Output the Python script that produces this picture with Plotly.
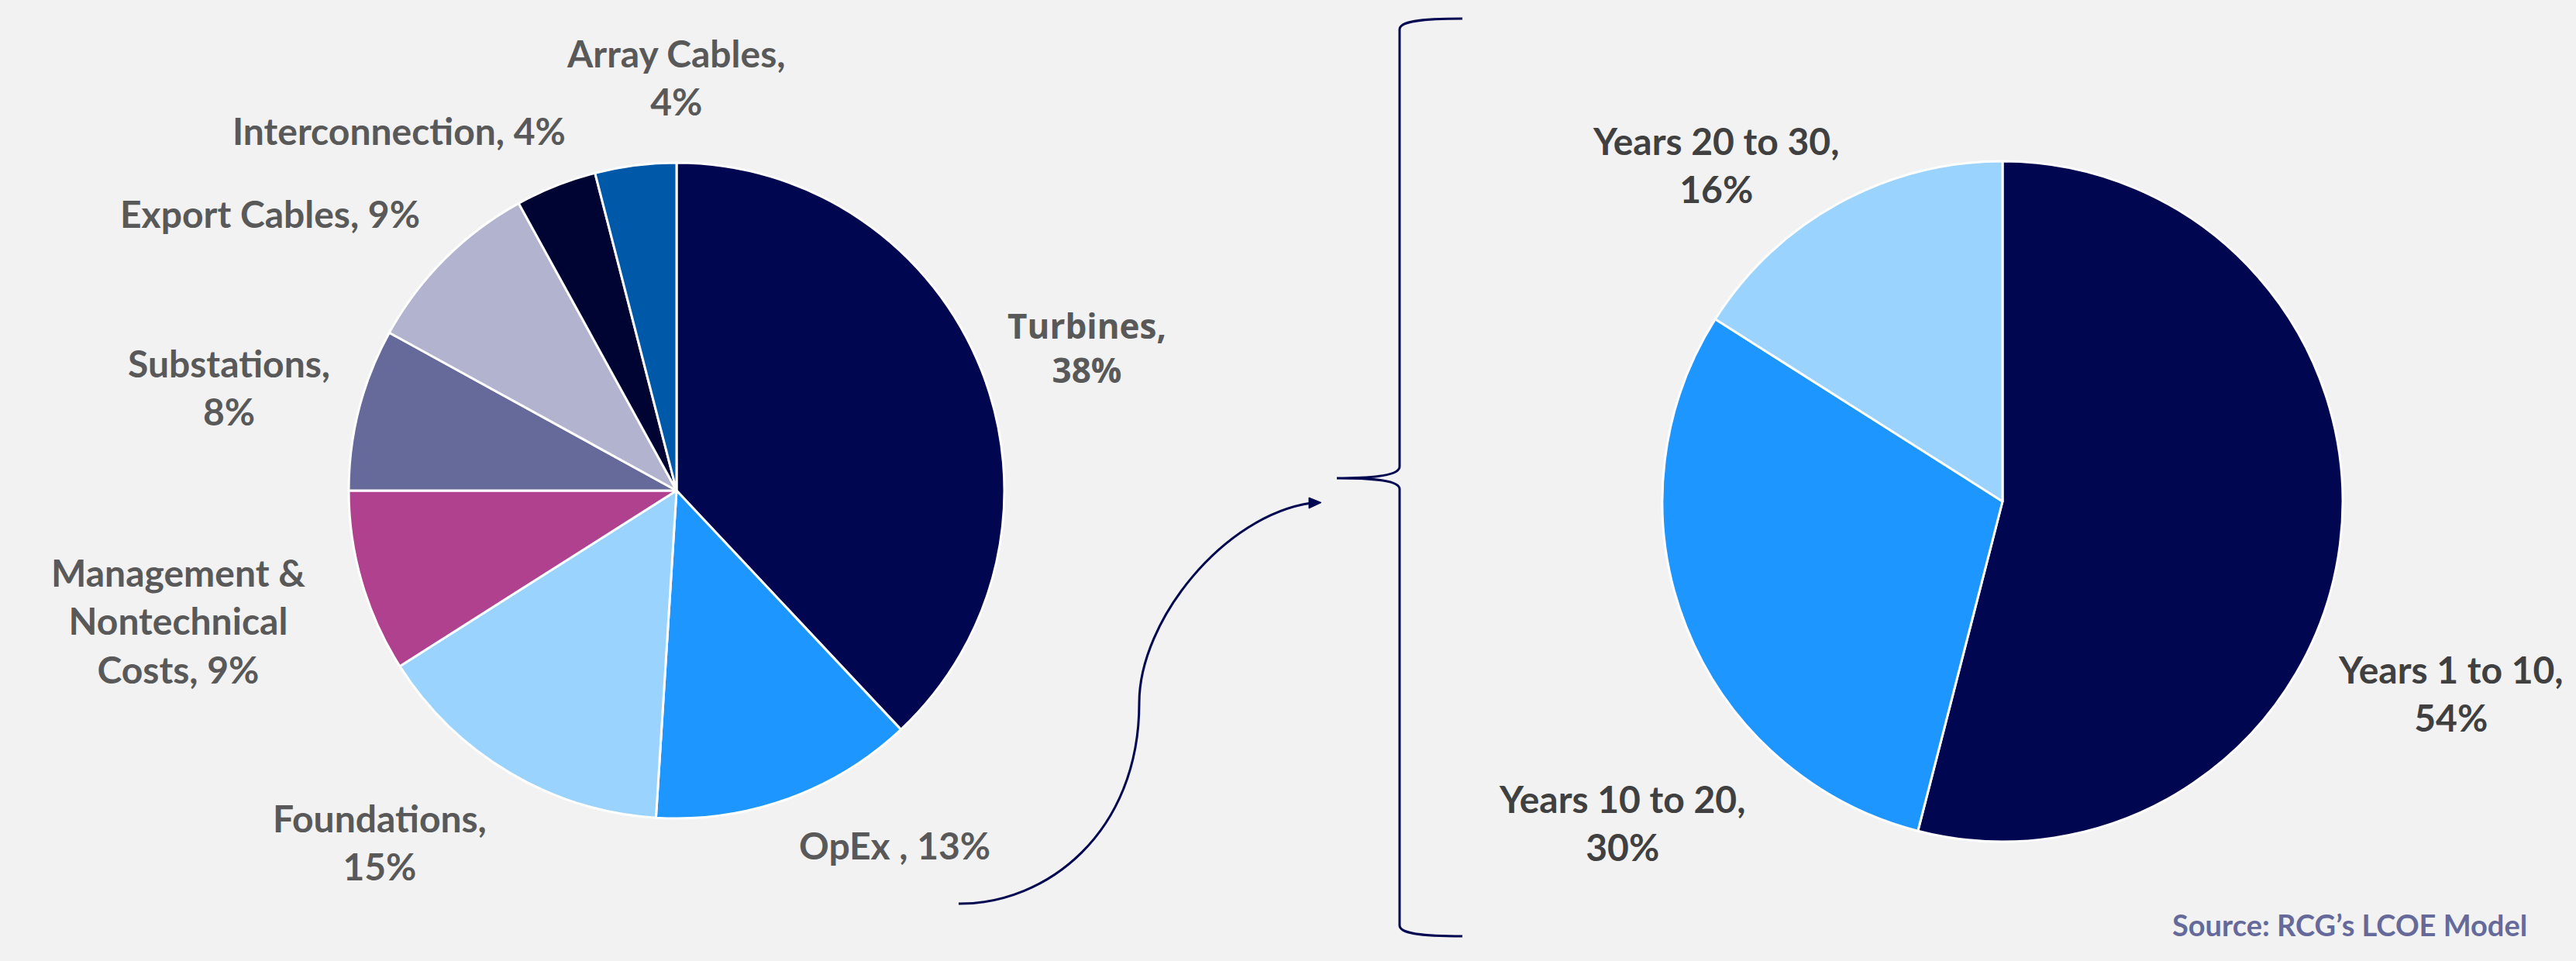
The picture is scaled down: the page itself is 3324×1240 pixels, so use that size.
import plotly.graph_objects as go

W, H = 3324, 1240

# ---- data ----
left_categories = ["Turbines", "OpEx", "Foundations", "Management & Nontechnical Costs",
                   "Substations", "Export Cables", "Interconnection", "Array Cables"]
left_values = [38, 13, 15, 9, 8, 9, 4, 4]
left_label_prefix = ["Turbines,<br>", "OpEx , ", "Foundations,<br>",
                     "Management &<br>Nontechnical<br>Costs, ", "Substations,<br>",
                     "Export Cables, ", "Interconnection, ", "Array Cables,<br>"]

right_categories = ["Years 1 to 10", "Years 10 to 20", "Years 20 to 30"]
right_values = [54, 30, 16]
right_label_prefix = ["Years 1 to 10,<br>", "Years 10 to 20,<br>", "Years 20 to 30,<br>"]

source_text = "Source: RCG\u2019s LCOE Model"

# ---- styles / layout (pixel positions of label centres) ----
left_colors = ["#000650", "#1E96FF", "#9AD3FE", "#B0418F", "#666A9A", "#B2B3CE", "#000433", "#0058A9"]
right_colors = ["#000650", "#1E96FF", "#9AD3FE"]
left_label_xy = [(1402, 448), (1154, 1090), (490, 1086), (230, 801),
                 (295, 500), (348, 275), (515, 168), (872, 99)]
right_label_xy = [(3162, 894), (2093, 1061), (2214, 213)]
left_label_font = ["Open Sans"] + ["Lato"] * 7
left_label_size = [44] + [48] * 7
BG = "#F2F2F2"
NAVY = "#000650"

left_text = [p + f"{v}%" for p, v in zip(left_label_prefix, left_values)]
right_text = [p + f"{v}%" for p, v in zip(right_label_prefix, right_values)]


def dom(cx, cy, r):
    return dict(x=[(cx - r) / W, (cx + r) / W], y=[(H - cy - r) / H, (H - cy + r) / H])


fig = go.Figure()
fig.add_trace(go.Pie(
    labels=left_categories, values=left_values, sort=False, direction="clockwise", rotation=0,
    marker=dict(colors=left_colors, line=dict(color="white", width=3)),
    textinfo="none", domain=dom(873, 633, 423), hoverinfo="skip", showlegend=False,
))
fig.add_trace(go.Pie(
    labels=right_categories, values=right_values, sort=False, direction="clockwise", rotation=0,
    marker=dict(colors=right_colors, line=dict(color="white", width=3)),
    textinfo="none", domain=dom(2584, 647, 439), hoverinfo="skip", showlegend=False,
))

annotations = []
for txt, (x, y), fam, sz in zip(left_text, left_label_xy, left_label_font, left_label_size):
    annotations.append(dict(text=txt, x=x / W, y=1 - y / H, xref="paper", yref="paper",
                            xanchor="center", yanchor="middle", align="center", showarrow=False,
                            font=dict(family=fam, size=sz, color="#595959", weight="bold")))
for txt, (x, y) in zip(right_text, right_label_xy):
    annotations.append(dict(text=txt, x=x / W, y=1 - y / H, xref="paper", yref="paper",
                            xanchor="center", yanchor="middle", align="center", showarrow=False,
                            font=dict(family="Lato", size=48, color="#404040", weight="bold")))
annotations.append(dict(text=source_text, x=3263 / W, y=1 - 1193 / H, xref="paper", yref="paper",
                        xanchor="right", yanchor="middle", showarrow=False,
                        font=dict(family="Lato", size=38, color="#666A9A", weight="bold")))


def P(x, y):
    return f"{x / W:.5f},{1 - y / H:.5f}"


brace = (f"M {P(1887, 24)} C {P(1830, 24)} {P(1806, 28)} {P(1806, 38)} L {P(1806, 602)} "
         f"C {P(1806, 613)} {P(1775, 617)} {P(1725, 617)} "
         f"M {P(1725, 617)} C {P(1775, 617)} {P(1806, 620)} {P(1806, 631)} L {P(1806, 1194)} "
         f"C {P(1806, 1204)} {P(1830, 1208)} {P(1887, 1208)}")
arrow = (f"M {P(1237, 1166)} C {P(1350, 1167)} {P(1470, 1075)} {P(1470, 907)} "
         f"C {P(1470, 800)} {P(1580, 665)} {P(1692, 649)}")
head = f"M {P(1705, 648.5)} L {P(1689, 642)} L {P(1689, 656)} Z"

shapes = [
    dict(type="path", path=brace, xref="paper", yref="paper", line=dict(color=NAVY, width=3)),
    dict(type="path", path=arrow, xref="paper", yref="paper", line=dict(color=NAVY, width=3)),
    dict(type="path", path=head, xref="paper", yref="paper", line=dict(color=NAVY, width=1),
         fillcolor=NAVY),
]

fig.update_layout(
    width=W, height=H, margin=dict(l=0, r=0, t=0, b=0),
    paper_bgcolor=BG, plot_bgcolor=BG, shapes=shapes, annotations=annotations,
)

fig.write_html("out.html")
